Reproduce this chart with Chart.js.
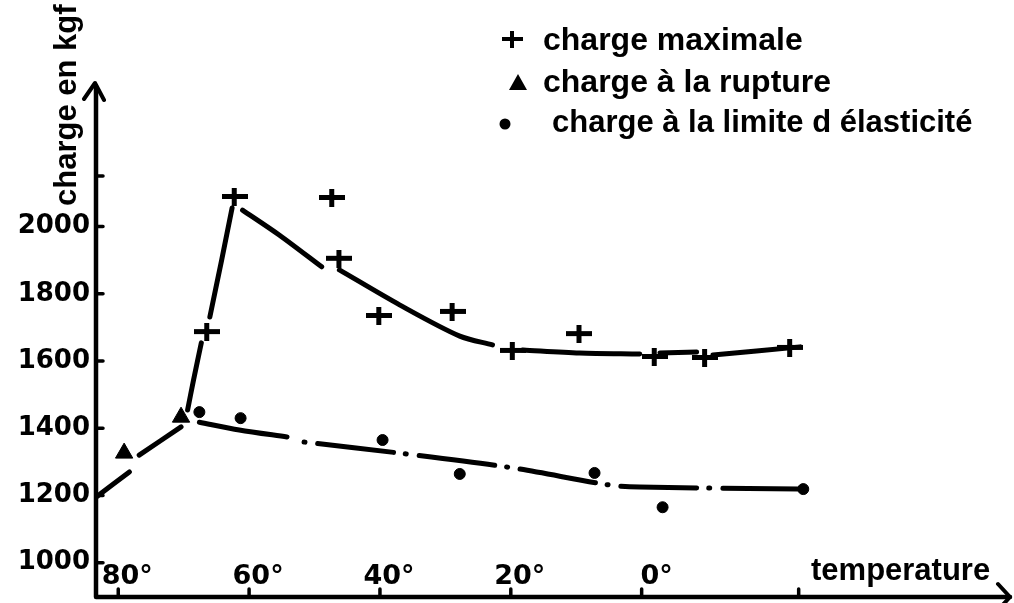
<!DOCTYPE html>
<html><head><meta charset="utf-8">
<script src="https://cdn.jsdelivr.net/npm/chart.js@4/dist/chart.umd.min.js"></script>
<style>html,body{margin:0;padding:0;background:#fff;overflow:hidden}</style>
</head><body>
<canvas id="c" width="1014" height="603"></canvas>
<script>
// ---- axis ticks ----
const tempTicks = [80, 60, 40, 20, 0, -24];
const tempTickLabels = ['80°', '60°', '40°', '20°', '0°', ''];
const loadTicks = [1000, 1200, 1400, 1600, 1800, 2000, 2150];
const loadTickLabels = ['1000', '1200', '1400', '1600', '1800', '2000', ''];

// ---- series labels ----
const seriesLabels = ['charge maximale', 'charge à la rupture', 'charge à la limite d élasticité'];

// ---- measured points ----
const maxLoadTemp  = [66.4, 62.2, 47.3, 46.2, 40.1, 28.9, 19.7, 9.5, -2.0, -9.7, -22.7];
const maxLoadValue = [1686, 2088, 2085, 1904, 1734, 1746, 1630, 1680, 1612, 1609, 1639];
const ruptureTemp  = [79.1, 70.4];
const ruptureValue = [1326, 1433];
const elasticTemp  = [67.6, 61.3, 39.6, 27.8, 7.2, -3.2, -24.7];
const elasticValue = [1448, 1430, 1365, 1264, 1267, 1165, 1219];

// ---- hand-drawn curves (null = gap in the pen stroke) ----
const upperCurveTemp  = [69.4, 68.5, 67.3, 66.6, 66.0, 64.2, 62.6, 62.0, 61.0, 55.4, 48.9, 47.5, 46.2, 37.0, 27.8, 22.8, 20.5, 18.2, 9.5, 0.3, -1.2, -2.8, -8.4, -9.6, -10.9, -24.2];
const upperCurveValue = [1454, 1543, 1654, null, 1731, 1900, 2055, null, 2049, 1975, 1880, null, 1871, 1767, 1674, 1648, null, 1633, 1624, 1621, null, 1624, 1627, null, 1618, 1642];
const lowerSolidTemp  = [83.4, 78.3, 77.5, 76.8, 70.4, 69.0, 67.6, 61.5, 54.2];
const lowerSolidValue = [1195, 1270, null, 1320, 1404, null, 1418, 1395, 1374];
const lowerDashTemp   = [51.6, 37.0, 19.7, 4.9, 0.3, -24.2];
const lowerDashValue  = [1359, 1326, 1282, 1231, 1225, 1219];

const pts = (xs, ys) => xs.map((x, i) => ({x: x, y: ys[i]}));

// cross marker image
const crossImg = document.createElement('canvas');
crossImg.width = 26; crossImg.height = 18;
(function(){ const g = crossImg.getContext('2d'); g.fillStyle = '#000';
  g.fillRect(0, 6, 26, 5); g.fillRect(10, 0, 5, 18); })();

const handPlugin = {
  id: 'hand',
  afterDraw(chart) {
    const ctx = chart.ctx, ca = chart.chartArea, xs = chart.scales.x, ys = chart.scales.y;
    ctx.save();
    ctx.strokeStyle = '#000'; ctx.fillStyle = '#000';
    ctx.lineCap = 'round'; ctx.lineJoin = 'round';
    // axes
    ctx.lineWidth = 4.5;
    ctx.beginPath();
    ctx.moveTo(ca.left, ca.bottom); ctx.lineTo(ca.left, ca.top + 1);
    ctx.moveTo(ca.left, ca.bottom); ctx.lineTo(ca.right, ca.bottom);
    ctx.stroke();
    ctx.lineWidth = 4;
    ctx.beginPath();
    ctx.moveTo(ca.left - 12, ca.top + 14); ctx.lineTo(ca.left - 1, ca.top - 2); ctx.lineTo(ca.left + 8, ca.top + 15);
    ctx.moveTo(ca.right - 12, ca.bottom - 13); ctx.lineTo(ca.right, ca.bottom); ctx.lineTo(ca.right - 12, ca.bottom + 13);
    ctx.stroke();
    // tick stubs
    ctx.lineWidth = 3.5;
    ctx.beginPath();
    loadTicks.forEach(v => { const p = ys.getPixelForValue(v); ctx.moveTo(ca.left, p); ctx.lineTo(ca.left + 7, p); });
    tempTicks.forEach(v => { const p = xs.getPixelForValue(v); ctx.moveTo(p, ca.bottom); ctx.lineTo(p, ca.bottom - 8); });
    ctx.stroke();
    // x tick labels (written above the axis)
    ctx.font = 'bold 27px "DejaVu Sans"';
    ctx.textAlign = 'center'; ctx.textBaseline = 'alphabetic';
    tempTicks.forEach((v, i) => {
      if (!tempTickLabels[i]) return;
      const off = tempTickLabels[i].length < 3 ? 15 : 9;
      ctx.fillText(tempTickLabels[i], xs.getPixelForValue(v) + off, 584);
    });
    // x axis title
    ctx.textAlign = 'left';
    ctx.font = 'bold 31px "Liberation Sans"';
    ctx.fillText('temperature', 811, 580);
    // y axis title
    ctx.save();
    ctx.translate(76, 206); ctx.rotate(-Math.PI / 2);
    ctx.font = 'bold 31px "Liberation Sans"';
    ctx.fillText('charge en kgf', 0, 0);
    ctx.restore();
    // legend
    ctx.font = 'bold 32px "Liberation Sans"';
    ctx.fillText(seriesLabels[0], 543, 50);
    ctx.fillText(seriesLabels[1], 543, 92);
    ctx.font = 'bold 31px "Liberation Sans"';
    ctx.fillText(seriesLabels[2], 552, 132);
    ctx.lineWidth = 4; ctx.lineCap = 'butt';
    ctx.beginPath();
    ctx.moveTo(502, 39); ctx.lineTo(523, 39);
    ctx.moveTo(512, 31); ctx.lineTo(512, 48);
    ctx.stroke();
    ctx.beginPath();
    ctx.moveTo(518, 74); ctx.lineTo(509, 90); ctx.lineTo(527, 90); ctx.closePath(); ctx.fill();
    ctx.beginPath(); ctx.arc(505, 124, 5.5, 0, Math.PI * 2); ctx.fill();
    ctx.restore();
  }
};

new Chart(document.getElementById('c'), {
  type: 'scatter',
  data: {
    datasets: [
      { label: seriesLabels[0], data: pts(maxLoadTemp, maxLoadValue), pointStyle: crossImg, pointRadius: 10, backgroundColor: '#000', borderColor: '#000' },
      { label: seriesLabels[1], data: pts(ruptureTemp, ruptureValue), pointStyle: 'triangle', pointRadius: 10, backgroundColor: '#000', borderColor: '#000', borderWidth: 1 },
      { label: seriesLabels[2], data: pts(elasticTemp, elasticValue), pointStyle: 'circle', pointRadius: 5.5, backgroundColor: '#000', borderColor: '#000', borderWidth: 1 },
      { type: 'line', label: 'upper', data: pts(upperCurveTemp, upperCurveValue), showLine: true, pointRadius: 0, borderColor: '#000', borderWidth: 5, tension: 0.3, borderCapStyle: 'round', spanGaps: false },
      { type: 'line', label: 'lowerA', data: pts(lowerSolidTemp, lowerSolidValue), showLine: true, pointRadius: 0, borderColor: '#000', borderWidth: 5, tension: 0.3, borderCapStyle: 'round', spanGaps: false },
      { type: 'line', label: 'lowerB', data: pts(lowerDashTemp, lowerDashValue), showLine: true, pointRadius: 0, borderColor: '#000', borderWidth: 5, tension: 0.3, borderCapStyle: 'round', borderDash: [1, 13, 76, 12] }
    ]
  },
  options: {
    responsive: false, animation: false, devicePixelRatio: 1,
    layout: { autoPadding: false, padding: { top: 85, right: 4, bottom: 6, left: 0 } },
    plugins: { legend: { display: false }, tooltip: { enabled: false } },
    scales: {
      x: { type: 'linear', reverse: true, min: -56.3, max: 83.4, display: false },
      y: {
        type: 'linear', min: 898, max: 2421,
        afterBuildTicks: s => { s.ticks = loadTicks.map(v => ({ value: v })); },
        afterFit: s => { s.width = 96; s.paddingTop = 0; s.paddingBottom = 0; },
        grid: { display: false, drawTicks: false },
        border: { display: false },
        ticks: {
          autoSkip: false, padding: 6, color: '#000',
          font: { family: 'DejaVu Sans', size: 26, weight: 'bold' },
          callback: v => loadTickLabels[loadTicks.indexOf(v)]
        }
      }
    }
  },
  plugins: [handPlugin]
});
</script>
</body></html>
